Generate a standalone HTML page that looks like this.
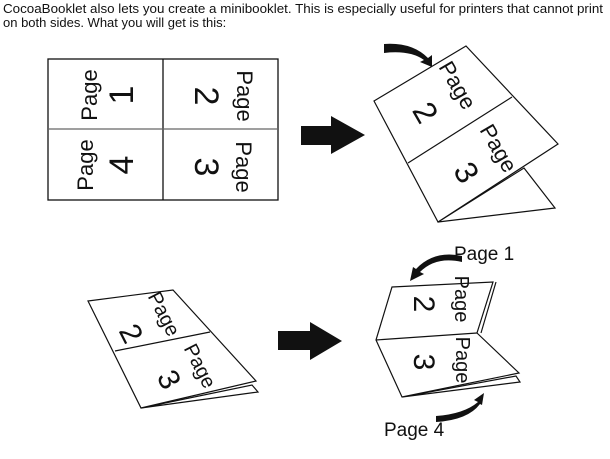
<!DOCTYPE html>
<html><head><style>
body{margin:0;background:#fff;width:610px;height:459px;overflow:hidden;}
svg{display:block}
text{font-family:"Liberation Sans",Arial,sans-serif;fill:#111}
</style></head><body>
<svg width="610" height="459" viewBox="0 0 610 459" xmlns="http://www.w3.org/2000/svg">
<text x="3" y="13" font-size="13" textLength="600" lengthAdjust="spacingAndGlyphs">CocoaBooklet also lets you create a minibooklet. This is especially useful for printers that cannot print</text>
<text x="3" y="27" font-size="13">on both sides. What you will get is this:</text>

<g stroke="#111" fill="none" stroke-width="1.3">
<rect x="48" y="59" width="230" height="141"/>
<line x1="163" y1="59" x2="163" y2="200"/>
<line x1="48" y1="129" x2="278" y2="129" stroke="#666"/>
</g>
<g font-size="22">
<text transform="translate(97,95) rotate(-90)" text-anchor="middle">Page</text>
<text transform="translate(133,95) rotate(-90)" text-anchor="middle" font-size="34">1</text>
<text transform="translate(93,165) rotate(-90)" text-anchor="middle">Page</text>
<text transform="translate(133,165) rotate(-90)" text-anchor="middle" font-size="34">4</text>
<text transform="translate(237,96) rotate(90)" text-anchor="middle">Page</text>
<text transform="translate(195,96) rotate(90)" text-anchor="middle" font-size="34">2</text>
<text transform="translate(236,167) rotate(90)" text-anchor="middle">Page</text>
<text transform="translate(195,167) rotate(90)" text-anchor="middle" font-size="34">3</text>
</g>

<polygon points="301,126 331,126 331,116 365,135 331,154 331,145 301,145" fill="#111"/>
<polygon points="278,331 310,331 310,322 342,341 310,360 310,350 278,350" fill="#111"/>

<!-- top right booklet -->
<g stroke="#111" fill="#fff" stroke-width="1.2">
<polygon points="524,168 555,208 438,222"/>
<polygon points="374,101 466,46 558,144 438,222"/>
<line x1="408" y1="163" x2="512" y2="97"/>
</g>
<g font-size="22">
<text transform="translate(451,89) rotate(60)" text-anchor="middle">Page</text>
<text transform="translate(416,118) rotate(60)" text-anchor="middle" font-size="32">2</text>
<text transform="translate(492,152) rotate(60)" text-anchor="middle">Page</text>
<text transform="translate(457,178) rotate(60)" text-anchor="middle" font-size="32">3</text>
</g>
<path d="M384,44 Q412,42 428,58 L432,55 L432,67 L420,62 L424,60 Q410,50 384,53 Z" fill="#111"/>

<!-- bottom left booklet -->
<g stroke="#111" fill="#fff" stroke-width="1.2">
<polygon points="141,408 258,392 252,385"/>
<polygon points="88,301 173,290 256,381 141,408"/>
<line x1="115" y1="351" x2="210" y2="332"/>
</g>
<g font-size="20">
<text transform="translate(158,317) rotate(63)" text-anchor="middle">Page</text>
<text transform="translate(122,338) rotate(63)" text-anchor="middle" font-size="30">2</text>
<text transform="translate(194,369) rotate(63)" text-anchor="middle">Page</text>
<text transform="translate(160,384) rotate(63)" text-anchor="middle" font-size="30">3</text>
</g>

<!-- bottom right booklet -->
<g stroke="#111" fill="#fff" stroke-width="1.2">
<polygon points="402,397 520,382 516,376"/>
<polyline points="496,282 481,333" fill="none"/>
<polygon points="392,287 493,282 477,333 519,373 402,397 376,340"/>
<line x1="376" y1="340" x2="477" y2="333"/>
</g>
<g font-size="20">
<text transform="translate(455,299) rotate(90)" text-anchor="middle">Page</text>
<text transform="translate(414,304) rotate(90)" text-anchor="middle" font-size="30">2</text>
<text transform="translate(456,360) rotate(90)" text-anchor="middle">Page</text>
<text transform="translate(414,362) rotate(90)" text-anchor="middle" font-size="30">3</text>
</g>
<text x="454" y="260" font-size="19">Page 1</text>
<text x="384" y="436" font-size="19">Page 4</text>
<path d="M462,262 Q436,256 420,272 L424,274 L410,281 L413,267 L416,269 Q434,250 462,256 Z" fill="#111"/>
<path d="M436,416 Q464,414 478,402 L474,400 L484,393 L482,405 L480,404 Q468,420 436,422 Z" fill="#111"/>
</svg>
</body></html>
